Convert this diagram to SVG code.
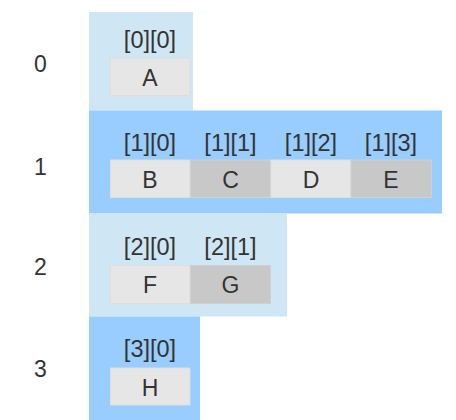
<svg xmlns="http://www.w3.org/2000/svg" width="456" height="420" viewBox="0 0 456 420">
<style>
text{font-family:"Liberation Sans",Arial,sans-serif;fill:#333;text-anchor:middle;font-size:23px}
.lb{font-size:23.5px}
.rl{fill:#cfe6f4}
.rd{fill:#99ccff}
.cl{fill:#e6e6e6;stroke:#dedede;stroke-width:1}
.cd{fill:#c8c8c8;stroke:#d0d0d0;stroke-width:1}
</style>
<rect width="456" height="420" fill="#fff"/>
<g id="row0">
<rect class="rl" x="89" y="12" width="104" height="98.5"/>
<text x="40.5" y="71.5">0</text>
</g>
<g id="row1">
<rect class="rd" x="89" y="110.5" width="353" height="103"/>
<text x="40.5" y="174.5">1</text>
</g>
<g id="row2">
<rect class="rl" x="89" y="213.5" width="198" height="103"/>
<text x="40.5" y="275">2</text>
</g>
<g id="row3">
<rect class="rd" x="89" y="316.5" width="111" height="103.5"/>
<text x="40.5" y="377">3</text>
</g>
<g id="cell00"><text class="lb" x="150" y="48">[0][0]</text><rect class="cl" x="110.5" y="58" width="79.5" height="37.5"/><text x="150" y="85.5">A</text></g>
<g id="cell10"><text class="lb" x="150" y="150.5">[1][0]</text><rect class="cl" x="110.5" y="160" width="79.5" height="37.5"/><text x="150" y="187.5">B</text></g>
<g id="cell11"><text class="lb" x="230.5" y="150.5">[1][1]</text><rect class="cd" x="190.5" y="160" width="80" height="37.5"/><text x="230.5" y="187.5">C</text></g>
<g id="cell12"><text class="lb" x="311" y="150.5">[1][2]</text><rect class="cl" x="271" y="160" width="80" height="37.5"/><text x="311" y="187.5">D</text></g>
<g id="cell13"><text class="lb" x="391" y="150.5">[1][3]</text><rect class="cd" x="351" y="160" width="80.5" height="37.5"/><text x="391" y="187.5">E</text></g>
<g id="cell20"><text class="lb" x="150" y="254.5">[2][0]</text><rect class="cl" x="110.5" y="265.5" width="79.5" height="38"/><text x="150" y="292.5">F</text></g>
<g id="cell21"><text class="lb" x="230.5" y="254.5">[2][1]</text><rect class="cd" x="190.5" y="265.5" width="80" height="38"/><text x="230.5" y="292.5">G</text></g>
<g id="cell30"><text class="lb" x="150" y="356.5">[3][0]</text><rect class="cl" x="110.5" y="368" width="79.5" height="37"/><text x="150" y="395.5">H</text></g>
<g id="connectors"></g>
</svg>
